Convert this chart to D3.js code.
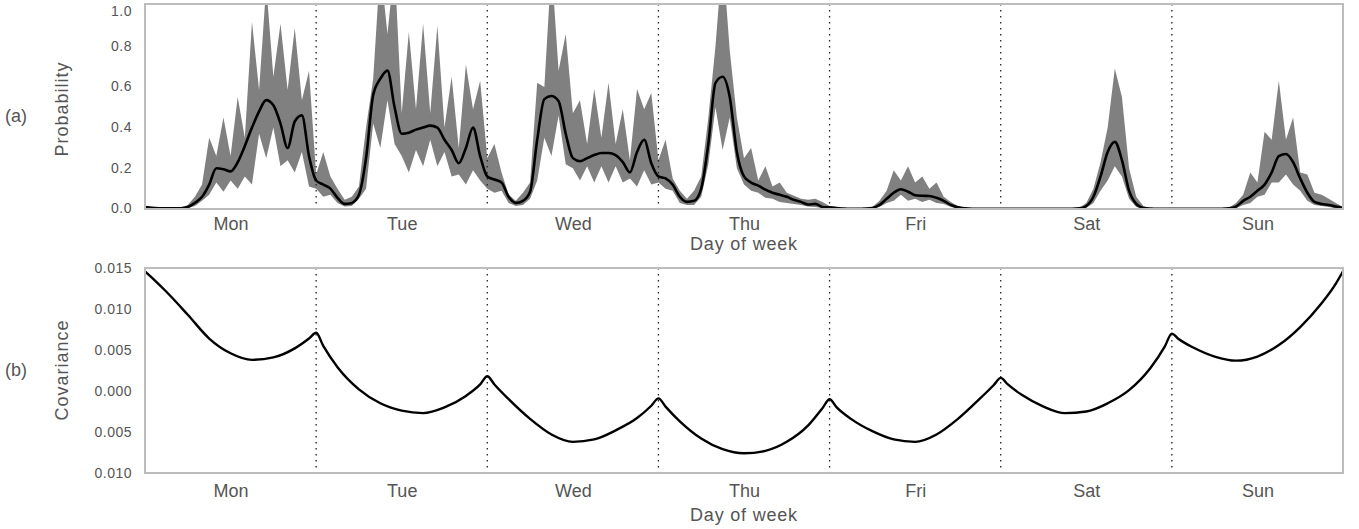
<!DOCTYPE html>
<html>
<head>
<meta charset="utf-8">
<script src="https://cdn.jsdelivr.net/npm/d3@7/dist/d3.min.js"></script>
<style>
  html, body { margin: 0; padding: 0; background: #ffffff; }
  svg { display: block; }
  text { font-family: "Liberation Sans", Arial, sans-serif; fill: #555555; }
</style>
</head>
<body>
<svg id="chart" width="1359" height="529"></svg>
<script>
// ---------------- DATA ----------------
const days = ["Mon", "Tue", "Wed", "Thu", "Fri", "Sat", "Sun"];

// Probability tick values and labels (panel a)
const probTicks = [0.0, 0.2, 0.4, 0.6, 0.8, 1.0];
const probTickLabels = ["0.0", "0.2", "0.4", "0.6", "0.8", "1.0"];

// Covariance tick values and labels (panel b) – labels as printed in the figure
const covTicks = [0.015, 0.010, 0.005, 0.000, -0.005, -0.010];
const covTickLabels = ["0.015", "0.010", "0.005", "0.000", "0.005", "0.010"];

// Hourly mean probability, hour 0 (Mon 00:00) ... hour 168 (end of Sun)
const meanProb = [
  0.010, 0.006, 0.004, 0.003, 0.003, 0.004, 0.010, 0.030, 0.060, 0.120, 0.200, 0.195, 0.185, 0.230, 0.310, 0.400, 0.480, 0.535, 0.510, 0.420, 0.300, 0.430, 0.460, 0.260,
  0.140, 0.120, 0.100, 0.055, 0.025, 0.030, 0.070, 0.250, 0.560, 0.640, 0.680, 0.500, 0.370, 0.375, 0.390, 0.400, 0.410, 0.400, 0.340, 0.290, 0.225, 0.300, 0.400, 0.260,
  0.160, 0.145, 0.130, 0.060, 0.030, 0.040, 0.085, 0.340, 0.540, 0.555, 0.530, 0.370, 0.250, 0.235, 0.250, 0.265, 0.275, 0.275, 0.265, 0.230, 0.180, 0.280, 0.340, 0.225,
  0.160, 0.150, 0.120, 0.060, 0.035, 0.040, 0.100, 0.320, 0.620, 0.650, 0.550, 0.280, 0.160, 0.130, 0.115, 0.095, 0.080, 0.070, 0.060, 0.045, 0.035, 0.022, 0.025, 0.010,
  0.008, 0.005, 0.002, 0.001, 0.001, 0.002, 0.005, 0.020, 0.050, 0.080, 0.097, 0.085, 0.068, 0.065, 0.064, 0.055, 0.040, 0.020, 0.008, 0.003, 0.001, 0.001, 0.001, 0.001,
  0.001, 0.001, 0.001, 0.001, 0.001, 0.001, 0.001, 0.001, 0.001, 0.001, 0.001, 0.003, 0.015, 0.060, 0.160, 0.280, 0.330, 0.240, 0.090, 0.025, 0.005, 0.002, 0.001, 0.001,
  0.001, 0.001, 0.001, 0.001, 0.001, 0.001, 0.001, 0.001, 0.003, 0.012, 0.040, 0.060, 0.090, 0.120, 0.180, 0.260, 0.270, 0.230, 0.150, 0.080, 0.035, 0.025, 0.020, 0.012,
  0.005
];

// Hourly upper edge of the uncertainty band
const upperProb = [
  0.015, 0.008, 0.005, 0.004, 0.004, 0.006, 0.020, 0.060, 0.120, 0.350, 0.260, 0.450, 0.260, 0.550, 0.350, 0.920, 0.585, 1.100, 0.650, 0.910, 0.585, 0.890, 0.535, 0.680,
  0.170, 0.280, 0.160, 0.100, 0.045, 0.060, 0.110, 0.400, 0.640, 1.200, 0.860, 1.200, 0.470, 0.870, 0.490, 0.910, 0.470, 0.900, 0.400, 0.650, 0.300, 0.710, 0.490, 0.630,
  0.250, 0.320, 0.180, 0.070, 0.040, 0.080, 0.130, 0.620, 0.600, 1.200, 0.680, 0.860, 0.470, 0.535, 0.320, 0.590, 0.350, 0.620, 0.320, 0.490, 0.240, 0.590, 0.490, 0.570,
  0.240, 0.340, 0.150, 0.090, 0.050, 0.090, 0.160, 0.450, 0.800, 1.250, 0.780, 0.450, 0.250, 0.300, 0.140, 0.210, 0.110, 0.130, 0.080, 0.065, 0.050, 0.045, 0.050, 0.035,
  0.015, 0.010, 0.005, 0.003, 0.003, 0.005, 0.010, 0.040, 0.090, 0.190, 0.140, 0.210, 0.130, 0.160, 0.100, 0.130, 0.060, 0.035, 0.015, 0.005, 0.002, 0.002, 0.002, 0.002,
  0.002, 0.002, 0.002, 0.002, 0.002, 0.002, 0.002, 0.002, 0.002, 0.002, 0.002, 0.005, 0.030, 0.100, 0.230, 0.400, 0.690, 0.550, 0.200, 0.060, 0.015, 0.004, 0.002, 0.002,
  0.002, 0.002, 0.002, 0.002, 0.002, 0.002, 0.002, 0.002, 0.006, 0.030, 0.070, 0.180, 0.130, 0.380, 0.340, 0.630, 0.340, 0.450, 0.180, 0.170, 0.080, 0.070, 0.050, 0.030,
  0.010
];

// Hourly lower edge of the uncertainty band
const lowerProb = [
  0.005, 0.003, 0.002, 0.001, 0.001, 0.002, 0.005, 0.015, 0.040, 0.070, 0.130, 0.085, 0.140, 0.100, 0.160, 0.120, 0.370, 0.250, 0.400, 0.210, 0.240, 0.180, 0.280, 0.110,
  0.100, 0.060, 0.070, 0.030, 0.012, 0.015, 0.050, 0.100, 0.420, 0.300, 0.535, 0.320, 0.260, 0.180, 0.290, 0.210, 0.340, 0.210, 0.280, 0.160, 0.170, 0.120, 0.190, 0.140,
  0.100, 0.080, 0.090, 0.030, 0.015, 0.020, 0.050, 0.140, 0.350, 0.260, 0.460, 0.220, 0.200, 0.140, 0.210, 0.130, 0.210, 0.130, 0.210, 0.130, 0.150, 0.110, 0.190, 0.120,
  0.130, 0.100, 0.090, 0.030, 0.020, 0.020, 0.060, 0.220, 0.500, 0.290, 0.450, 0.200, 0.120, 0.090, 0.080, 0.055, 0.050, 0.035, 0.030, 0.025, 0.020, 0.012, 0.010, 0.005,
  0.003, 0.002, 0.001, 0.000, 0.000, 0.001, 0.002, 0.010, 0.030, 0.040, 0.070, 0.040, 0.050, 0.035, 0.045, 0.030, 0.025, 0.010, 0.003, 0.001, 0.000, 0.000, 0.000, 0.000,
  0.000, 0.000, 0.000, 0.000, 0.000, 0.000, 0.000, 0.000, 0.000, 0.000, 0.000, 0.001, 0.005, 0.030, 0.090, 0.140, 0.210, 0.160, 0.050, 0.010, 0.002, 0.001, 0.000, 0.000,
  0.000, 0.000, 0.000, 0.000, 0.000, 0.000, 0.000, 0.000, 0.001, 0.004, 0.020, 0.030, 0.060, 0.070, 0.130, 0.130, 0.170, 0.120, 0.090, 0.040, 0.020, 0.015, 0.010, 0.005,
  0.002
];

// Covariance curve samples (hour of week, value)
const covHours = [
  0, 1, 3, 6, 9, 12, 15, 18, 21, 23,
  24, 25, 27, 30, 33, 36, 39, 42, 45, 47,
  48, 49, 51, 54, 57, 60, 63, 66, 69, 71,
  72, 73, 75, 78, 81, 84, 87, 90, 93, 95,
  96, 97, 99, 102, 105, 108, 111, 114, 117, 119,
  120, 121, 123, 126, 129, 132, 135, 138, 141, 143,
  144, 145, 147, 150, 153, 156, 159, 162, 165, 167,
  168
];
const covValues = [
  0.0146, 0.0138, 0.0121, 0.0093, 0.0064, 0.0046, 0.0038, 0.0041, 0.0052, 0.0064,
  0.0071, 0.0055, 0.0029, 0.0002, -0.0015, -0.0024, -0.0027, -0.0020, -0.0006, 0.0008,
  0.0018, 0.0008, -0.0010, -0.0034, -0.0053, -0.0062, -0.0059, -0.0048, -0.0033, -0.0018,
  -0.0009, -0.0019, -0.0037, -0.0058, -0.0071, -0.0076, -0.0073, -0.0062, -0.0042, -0.0021,
  -0.0010, -0.0020, -0.0034, -0.0049, -0.0059, -0.0062, -0.0053, -0.0034, -0.0010, 0.0007,
  0.0016, 0.0008, -0.0005, -0.0019, -0.0027, -0.0025, -0.0015, 0.0001, 0.0028, 0.0054,
  0.0070, 0.0063, 0.0053, 0.0042, 0.0037, 0.0042, 0.0056, 0.0078, 0.0107, 0.0131,
  0.0146
];

// ---------------- DRAWING ----------------
const svg = d3.select("#chart");
const left = 145, right = 1343;

const x = d3.scaleLinear().domain([0, 168]).range([left, right]);
const yP = d3.scaleLinear().domain([0, 1.0075]).range([209, 4]);
const yC = d3.scaleLinear().domain([-0.010, 0.015]).range([473, 268]);

const probData = meanProb.map((m, i) => ({ h: i, m: m, u: upperProb[i], l: lowerProb[i] }));
const covData = covHours.map((h, i) => ({ h: h, v: covValues[i] }));
const boundaries = d3.range(1, days.length).map(d => d * 24);
const dayCentres = days.map((d, i) => i * 24 + 12);

// clip for panel a
svg.append("defs").append("clipPath").attr("id", "clipA")
  .append("rect").attr("x", left).attr("y", yP.range()[1])
  .attr("width", right - left).attr("height", yP.range()[0] - yP.range()[1]);

// ---- Panel (a) ----
const gA = svg.append("g");
gA.append("path")
  .datum(probData)
  .attr("clip-path", "url(#clipA)")
  .attr("fill", "#808080")
  .attr("d", d3.area().x(d => x(d.h)).y0(d => yP(d.l)).y1(d => yP(d.u)).curve(d3.curveLinear));

gA.selectAll("line.sep").data(boundaries).join("line")
  .attr("class", "sep")
  .attr("x1", d => x(d)).attr("x2", d => x(d))
  .attr("y1", yP.range()[1]).attr("y2", yP.range()[0])
  .attr("stroke", "#222").attr("stroke-width", 1.3).attr("stroke-dasharray", "1.5,4.5");

gA.append("path")
  .datum(probData)
  .attr("clip-path", "url(#clipA)")
  .attr("fill", "none").attr("stroke", "#000").attr("stroke-width", 2.6)
  .attr("stroke-linejoin", "round")
  .attr("d", d3.line().x(d => x(d.h)).y(d => yP(d.m)).curve(d3.curveMonotoneX));

gA.append("rect")
  .attr("x", left).attr("y", yP.range()[1])
  .attr("width", right - left).attr("height", yP.range()[0] - yP.range()[1])
  .attr("fill", "none").attr("stroke", "#bdbdbd").attr("stroke-width", 2);

// y axis (a)
const axA = gA.append("g").attr("transform", `translate(${left},0)`)
  .call(d3.axisLeft(yP).tickValues(probTicks).tickSize(0).tickPadding(13)
    .tickFormat((d, i) => probTickLabels[i]));
axA.select(".domain").remove();
axA.selectAll("text").style("font-size", "14px").style("letter-spacing", "0.5px")
  .attr("fill", "#555");
axA.selectAll(".tick").attr("transform", d => `translate(0,${Math.max(yP(d), 12)})`);

// x axis (a)
const axAx = gA.append("g").attr("transform", `translate(0,${yP.range()[0]})`)
  .call(d3.axisBottom(x).tickValues(dayCentres).tickSize(0).tickPadding(8)
    .tickFormat((d, i) => days[i]));
axAx.select(".domain").remove();
axAx.selectAll("text").style("font-size", "18px").attr("fill", "#555");

gA.append("text").attr("x", (left + right) / 2).attr("y", 250)
  .attr("text-anchor", "middle").style("font-size", "18px").style("letter-spacing", "0.8px")
  .text("Day of week");
gA.append("text").attr("transform", "translate(68,109) rotate(-90)")
  .attr("text-anchor", "middle").style("font-size", "18px").style("letter-spacing", "1px")
  .text("Probability");
gA.append("text").attr("x", 16).attr("y", 122).attr("text-anchor", "middle")
  .style("font-size", "18px").text("(a)");

// ---- Panel (b) ----
const gB = svg.append("g");
gB.selectAll("line.sep").data(boundaries).join("line")
  .attr("class", "sep")
  .attr("x1", d => x(d)).attr("x2", d => x(d))
  .attr("y1", yC.range()[1]).attr("y2", yC.range()[0])
  .attr("stroke", "#222").attr("stroke-width", 1.3).attr("stroke-dasharray", "1.5,4.5");

gB.append("path")
  .datum(covData)
  .attr("fill", "none").attr("stroke", "#000").attr("stroke-width", 2.4)
  .attr("stroke-linejoin", "round")
  .attr("d", d3.line().x(d => x(d.h)).y(d => yC(d.v)).curve(d3.curveMonotoneX));

gB.append("rect")
  .attr("x", left).attr("y", yC.range()[1])
  .attr("width", right - left).attr("height", yC.range()[0] - yC.range()[1])
  .attr("fill", "none").attr("stroke", "#bdbdbd").attr("stroke-width", 2);

const axB = gB.append("g").attr("transform", `translate(${left},0)`)
  .call(d3.axisLeft(yC).tickValues(covTicks).tickSize(0).tickPadding(13)
    .tickFormat((d, i) => covTickLabels[i]));
axB.select(".domain").remove();
axB.selectAll("text").style("font-size", "14px").style("letter-spacing", "0.5px")
  .attr("fill", "#555");

const axBx = gB.append("g").attr("transform", `translate(0,${yC.range()[0]})`)
  .call(d3.axisBottom(x).tickValues(dayCentres).tickSize(0).tickPadding(11)
    .tickFormat((d, i) => days[i]));
axBx.select(".domain").remove();
axBx.selectAll("text").style("font-size", "18px").attr("fill", "#555");

gB.append("text").attr("x", (left + right) / 2).attr("y", 521)
  .attr("text-anchor", "middle").style("font-size", "18px").style("letter-spacing", "0.8px")
  .text("Day of week");
gB.append("text").attr("transform", "translate(68,370) rotate(-90)")
  .attr("text-anchor", "middle").style("font-size", "18px").style("letter-spacing", "1px")
  .text("Covariance");
gB.append("text").attr("x", 16).attr("y", 376).attr("text-anchor", "middle")
  .style("font-size", "18px").text("(b)");
</script>
</body>
</html>
